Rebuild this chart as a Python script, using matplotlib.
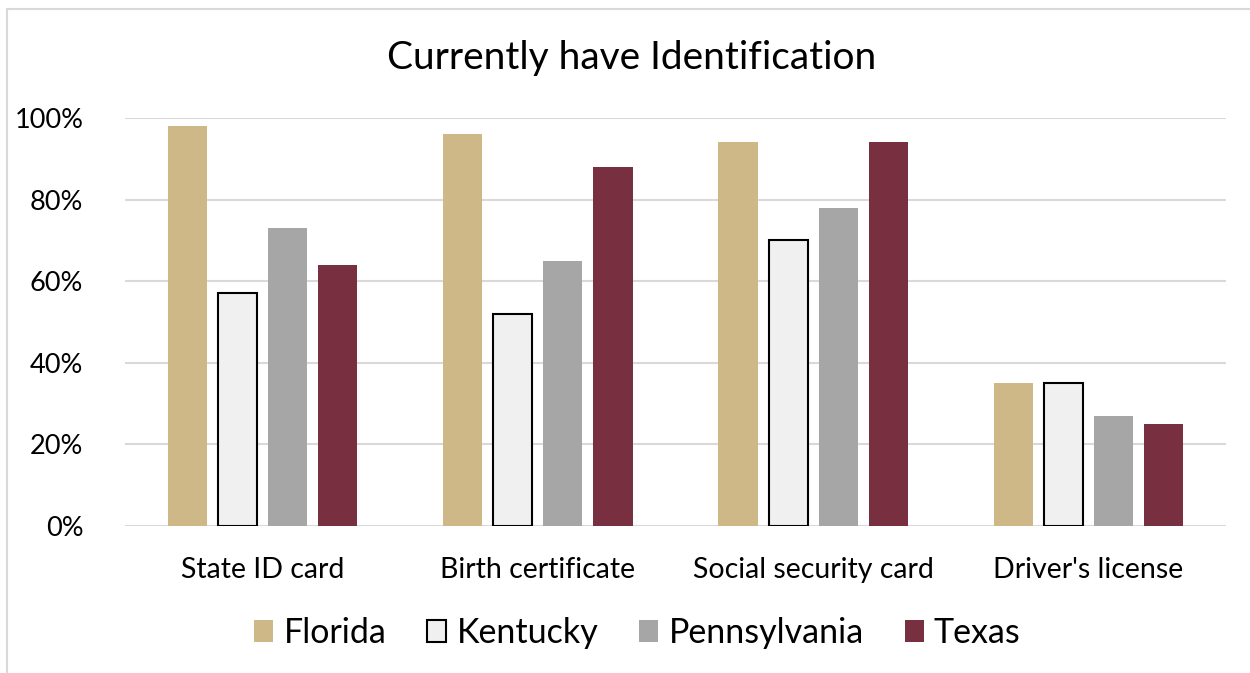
import numpy as np
import matplotlib.pyplot as plt
from matplotlib.ticker import PercentFormatter
from matplotlib.patches import Rectangle

plt.rcParams['font.family'] = ['Lato', 'DejaVu Sans']

# Data (share of respondents, %)
categories = ["State ID card", "Birth certificate", "Social security card", "Driver's license"]
states = ["Florida", "Kentucky", "Pennsylvania", "Texas"]
florida = [98, 96, 94, 35]
kentucky = [57, 52, 70, 35]
pennsylvania = [73, 65, 78, 27]
texas = [64, 88, 94, 25]

colors = ['#CFB887', '#F0F0F0', '#A6A6A6', '#782F40']
edges = ['#CFB887', '#000000', '#A6A6A6', '#782F40']

fig = plt.figure(figsize=(12.5, 6.73), dpi=100)
ax = fig.add_axes([0.1, 0.2184, 0.8808, 0.6063])

x = np.arange(len(categories))
pitch = 0.182
width = 0.142
series = [florida, kentucky, pennsylvania, texas]
for i, vals in enumerate(series):
    offs = (i - 1.5) * pitch
    lw = 1.5 if states[i] == "Kentucky" else 0
    ax.bar(x + offs, vals, width, color=colors[i], edgecolor=edges[i],
           linewidth=lw, label=states[i], zorder=3)

ax.set_xlim(-0.5, len(categories) - 0.5)
ax.set_ylim(0, 100)
ax.set_yticks(np.arange(0, 101, 20))
ax.yaxis.set_major_formatter(PercentFormatter(decimals=0))
ax.set_xticks(x)
ax.set_xticklabels(categories, fontsize=20.5)
ax.tick_params(axis='y', labelsize=19.5, length=0, pad=30)
ax.tick_params(axis='x', length=0, pad=22)
ax.grid(axis='y', color='#D9D9D9', linewidth=1.5, zorder=0)
for s in ax.spines.values():
    s.set_visible(False)

fig.text(0.505, 1 - 58 / 673, "Currently have Identification", fontsize=28,
         ha='center', va='center')

leg = fig.legend(loc='center', bbox_to_anchor=(0.51, 0.0594), ncol=4, frameon=False,
                 fontsize=24.5, handlelength=0.56, handleheight=0.65, handletextpad=0.3,
                 columnspacing=1.2)

# light border round the chart area
fig.patches.append(Rectangle((7 / 1250, -0.1), 1.2, 1 - 9 / 673 + 0.1,
                             transform=fig.transFigure, fill=False,
                             edgecolor='#D9D9D9', linewidth=1.5))

fig.savefig('out.png', dpi=100)
